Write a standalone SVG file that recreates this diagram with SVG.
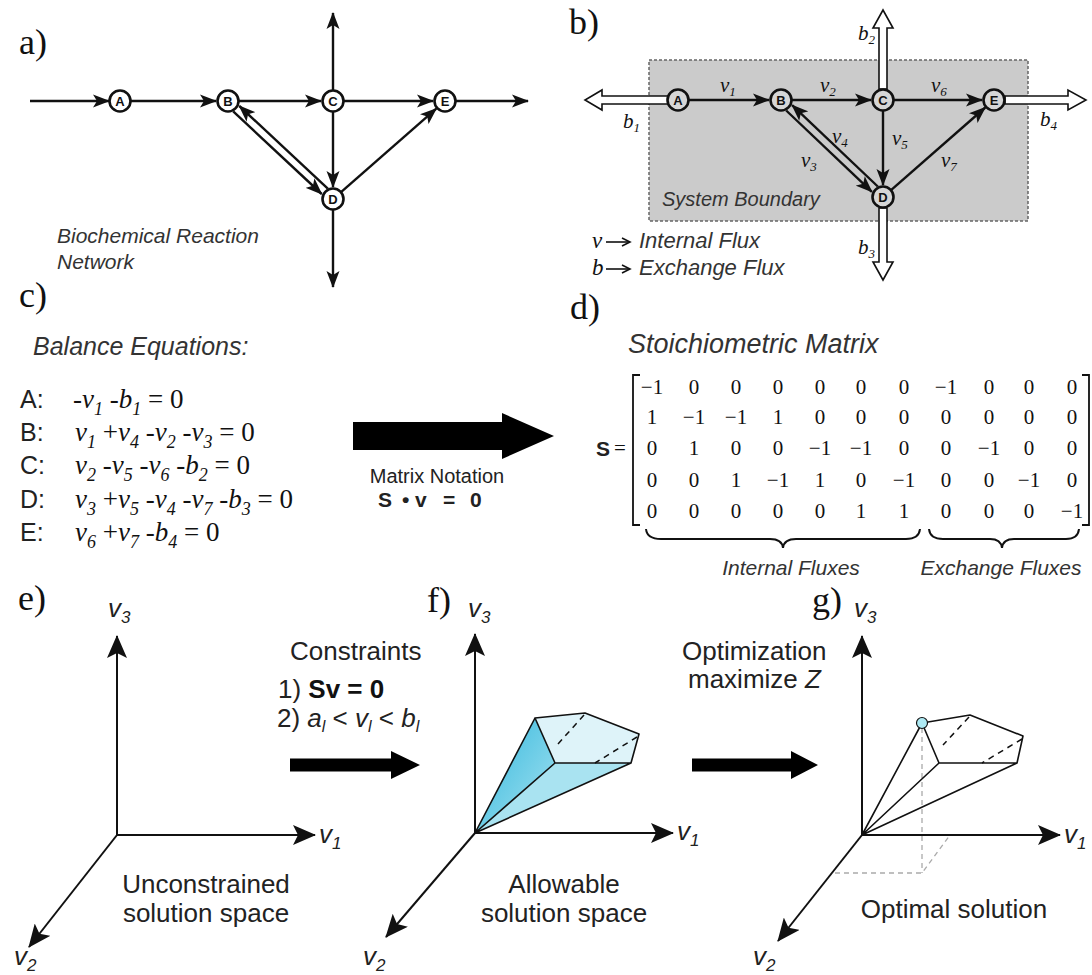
<svg xmlns="http://www.w3.org/2000/svg" width="1092" height="975" viewBox="0 0 1092 975">
<defs>
<marker id="ah" markerUnits="userSpaceOnUse" markerWidth="18" markerHeight="14" refX="16" refY="7" orient="auto">
<path d="M0,0.5 L17,7 L0,13.5 L4,7 z" fill="#111"/>
</marker>
<marker id="axh" markerUnits="userSpaceOnUse" markerWidth="24" markerHeight="20" refX="22" refY="10" orient="auto">
<path d="M0,0 L23,10 L0,20 L5,10 z" fill="#111"/>
</marker>
<linearGradient id="gL" x1="0" y1="0" x2="1" y2="1">
<stop offset="0" stop-color="#2fb6dc"/>
<stop offset="1" stop-color="#a8e3f1"/>
</linearGradient>
</defs>
<style>
.lbl{font-family:"Liberation Serif","Times New Roman",serif;font-size:36px;fill:#111}
.edge{fill:none;stroke:#111;stroke-width:2.4}
.nd{fill:#fff;stroke:#111;stroke-width:2.6}
.ndb{fill:#d6d6d6;stroke:#111;stroke-width:2.6}
.nt{font-family:"Liberation Sans",Arial,sans-serif;font-size:13px;font-weight:bold;text-anchor:middle;fill:#111}
.si{font-family:"Liberation Sans",Arial,sans-serif;font-style:italic;fill:#333}
.tm{font-family:"Liberation Serif","Times New Roman",serif;fill:#111}
.it{font-style:italic}
.sans{font-family:"Liberation Sans",Arial,sans-serif;fill:#222}
.hol{fill:#fff;stroke:#111;stroke-width:1.6}
.mx{font-family:"Liberation Serif","Times New Roman",serif;font-size:21px;text-anchor:middle;fill:#111}
.ax{fill:none;stroke:#111;stroke-width:2}
.axl{font-family:"Liberation Sans",Arial,sans-serif;font-size:26px;font-style:italic;fill:#222}
.poly{fill:none;stroke:#111;stroke-width:1.6;stroke-linejoin:round}
.dsh{fill:none;stroke:#111;stroke-width:1.5;stroke-dasharray:6,5}
.gd{fill:none;stroke:#aaa;stroke-width:1.3;stroke-dasharray:5,4}
.big{fill:#000}
</style>
<rect width="1092" height="975" fill="#fff"/>

<!-- panel labels -->
<g id="panel-labels">
<text class="lbl" x="19" y="54">a)</text>
<text class="lbl" x="569" y="34">b)</text>
<text class="lbl" x="19" y="307">c)</text>
<text class="lbl" x="570" y="319">d)</text>
<text class="lbl" x="18" y="610">e)</text>
<text class="lbl" x="427" y="612">f)</text>
<text class="lbl" x="812" y="612">g)</text>
</g>

<!-- ===== panel a ===== -->
<g id="a-connectors">
<path class="edge" d="M30,101 L109,101" marker-end="url(#ah)"/>
<path class="edge" d="M131,101 L216,101" marker-end="url(#ah)"/>
<path class="edge" d="M239,101 L321,101" marker-end="url(#ah)"/>
<path class="edge" d="M344,101 L433,101" marker-end="url(#ah)"/>
<path class="edge" d="M456,101 L528,101" marker-end="url(#ah)"/>
<path class="edge" d="M333,90 L333,13" marker-end="url(#ah)"/>
<path class="edge" d="M333,112 L333,187" marker-end="url(#ah)"/>
<path class="edge" d="M333,210 L333,287" marker-end="url(#ah)"/>
<path class="edge" d="M233.2,111.4 L321.7,194" marker-end="url(#ah)"/>
<path class="edge" d="M327.8,188.6 L239.3,106" marker-end="url(#ah)"/>
<path class="edge" d="M341.3,191.8 L436.3,108.6" marker-end="url(#ah)"/>
</g>
<g id="a-node-A"><circle class="nd" cx="120" cy="101" r="10.5"/><text class="nt" x="120" y="105.5">A</text></g>
<g id="a-node-B"><circle class="nd" cx="228" cy="101" r="10.5"/><text class="nt" x="228" y="105.5">B</text></g>
<g id="a-node-C"><circle class="nd" cx="333" cy="101" r="10.5"/><text class="nt" x="333" y="105.5">C</text></g>
<g id="a-node-D"><circle class="nd" cx="333" cy="199" r="10.5"/><text class="nt" x="333" y="203.5">D</text></g>
<g id="a-node-E"><circle class="nd" cx="445" cy="101" r="10.5"/><text class="nt" x="445" y="105.5">E</text></g>
<g id="a-caption">
<text class="si" font-size="21" x="57" y="243">Biochemical Reaction</text>
<text class="si" font-size="21" x="57" y="269">Network</text>
</g>

<!-- ===== panel b ===== -->
<g id="b-boundary">
<rect x="649" y="60" width="379" height="161" fill="#cbcbcb" stroke="#666" stroke-width="1.5" stroke-dasharray="3,2"/>
<text class="si" font-size="20" x="662" y="206">System Boundary</text>
</g>
<g id="b-exchange">
<polygon class="hol" points="668,96 602,96 602,90 585,100 602,110 602,104 668,104"/>
<polygon class="hol" points="879,89 879,28 873,28 883,10 893,28 887,28 887,89"/>
<polygon class="hol" points="879,208 879,262 873,262 883,280 893,262 887,262 887,208"/>
<polygon class="hol" points="1005,96 1068,96 1068,90 1086,100 1068,110 1068,104 1005,104"/>
</g>
<g id="b-connectors">
<path class="edge" d="M689,100 L769,100" marker-end="url(#ah)"/>
<path class="edge" d="M792,100 L871,100" marker-end="url(#ah)"/>
<path class="edge" d="M894,100 L982,100" marker-end="url(#ah)"/>
<path class="edge" d="M883,111 L883,185" marker-end="url(#ah)"/>
<path class="edge" d="M786.2,110.5 L871.9,191.9" marker-end="url(#ah)"/>
<path class="edge" d="M877.8,186.5 L792.1,105.1" marker-end="url(#ah)"/>
<path class="edge" d="M891.3,189.8 L985.3,107.5" marker-end="url(#ah)"/>
</g>
<g id="b-node-A"><circle class="ndb" cx="678" cy="100" r="10.5"/><text class="nt" x="678" y="104.5">A</text></g>
<g id="b-node-B"><circle class="ndb" cx="781" cy="100" r="10.5"/><text class="nt" x="781" y="104.5">B</text></g>
<g id="b-node-C"><circle class="ndb" cx="883" cy="100" r="10.5"/><text class="nt" x="883" y="104.5">C</text></g>
<g id="b-node-D"><circle class="ndb" cx="883" cy="197" r="10.5"/><text class="nt" x="883" y="201.5">D</text></g>
<g id="b-node-E"><circle class="ndb" cx="994" cy="100" r="10.5"/><text class="nt" x="994" y="104.5">E</text></g>
<g id="b-labels" class="tm it" font-size="21">
<text x="720" y="92">v<tspan font-size="13" dy="4">1</tspan></text>
<text x="820" y="92">v<tspan font-size="13" dy="4">2</tspan></text>
<text x="931" y="92">v<tspan font-size="13" dy="4">6</tspan></text>
<text x="832" y="143">v<tspan font-size="13" dy="4">4</tspan></text>
<text x="801" y="167">v<tspan font-size="13" dy="4">3</tspan></text>
<text x="892" y="145">v<tspan font-size="13" dy="4">5</tspan></text>
<text x="941" y="167">v<tspan font-size="13" dy="4">7</tspan></text>
<text x="623" y="128">b<tspan font-size="13" dy="4">1</tspan></text>
<text x="858" y="40">b<tspan font-size="13" dy="4">2</tspan></text>
<text x="858" y="254">b<tspan font-size="13" dy="4">3</tspan></text>
<text x="1040" y="126">b<tspan font-size="13" dy="4">4</tspan></text>
</g>
<g id="b-legend">
<text class="tm it" font-size="23" x="592" y="248">v</text>
<path d="M606,242 L629,242" stroke="#111" stroke-width="1.6"/><path d="M622,238 L630,242 L622,246" fill="none" stroke="#111" stroke-width="1.6"/>
<text class="si" font-size="22" x="639" y="248">Internal Flux</text>
<text class="tm it" font-size="23" x="592" y="275">b</text>
<path d="M606,269 L629,269" stroke="#111" stroke-width="1.6"/><path d="M622,265 L630,269 L622,273" fill="none" stroke="#111" stroke-width="1.6"/>
<text class="si" font-size="22" x="639" y="275">Exchange Flux</text>
</g>

<!-- ===== panel c ===== -->
<g id="c-equations">
<text class="si" font-size="25" x="33" y="355" fill="#111">Balance Equations:</text>
<g class="sans" font-size="25" fill="#111">
<text x="20" y="408">A:</text>
<text x="20" y="441">B:</text>
<text x="20" y="474">C:</text>
<text x="20" y="508">D:</text>
<text x="20" y="541">E:</text>
</g>
<g class="tm" font-size="27">
<text x="73" y="408">-<tspan class="it">v</tspan><tspan class="it" font-size="18" dy="7">1</tspan><tspan dy="-7"> -</tspan><tspan class="it">b</tspan><tspan class="it" font-size="18" dy="7">1</tspan><tspan dy="-7"> = 0</tspan></text>
<text x="75" y="441"><tspan class="it">v</tspan><tspan class="it" font-size="18" dy="7">1</tspan><tspan dy="-7"> +</tspan><tspan class="it">v</tspan><tspan class="it" font-size="18" dy="7">4</tspan><tspan dy="-7"> -</tspan><tspan class="it">v</tspan><tspan class="it" font-size="18" dy="7">2</tspan><tspan dy="-7"> -</tspan><tspan class="it">v</tspan><tspan class="it" font-size="18" dy="7">3</tspan><tspan dy="-7"> = 0</tspan></text>
<text x="75" y="474"><tspan class="it">v</tspan><tspan class="it" font-size="18" dy="7">2</tspan><tspan dy="-7"> -</tspan><tspan class="it">v</tspan><tspan class="it" font-size="18" dy="7">5</tspan><tspan dy="-7"> -</tspan><tspan class="it">v</tspan><tspan class="it" font-size="18" dy="7">6</tspan><tspan dy="-7"> -</tspan><tspan class="it">b</tspan><tspan class="it" font-size="18" dy="7">2</tspan><tspan dy="-7"> = 0</tspan></text>
<text x="75" y="508"><tspan class="it">v</tspan><tspan class="it" font-size="18" dy="7">3</tspan><tspan dy="-7"> +</tspan><tspan class="it">v</tspan><tspan class="it" font-size="18" dy="7">5</tspan><tspan dy="-7"> -</tspan><tspan class="it">v</tspan><tspan class="it" font-size="18" dy="7">4</tspan><tspan dy="-7"> -</tspan><tspan class="it">v</tspan><tspan class="it" font-size="18" dy="7">7</tspan><tspan dy="-7"> -</tspan><tspan class="it">b</tspan><tspan class="it" font-size="18" dy="7">3</tspan><tspan dy="-7"> = 0</tspan></text>
<text x="75" y="541"><tspan class="it">v</tspan><tspan class="it" font-size="18" dy="7">6</tspan><tspan dy="-7"> +</tspan><tspan class="it">v</tspan><tspan class="it" font-size="18" dy="7">7</tspan><tspan dy="-7"> -</tspan><tspan class="it">b</tspan><tspan class="it" font-size="18" dy="7">4</tspan><tspan dy="-7"> = 0</tspan></text>
</g>
</g>
<g id="c-arrow">
<polygon class="big" points="353,422 502,422 502,413 554,436 502,459 502,450 353,450"/>
<text class="sans" font-size="20" x="437" y="483" text-anchor="middle">Matrix Notation</text>
<g class="sans" font-size="21" font-weight="bold">
<text x="378" y="507">S</text><text x="402" y="507">•</text><text x="415" y="507">v</text><text x="443" y="507">=</text><text x="470" y="507">0</text>
</g>
</g>

<!-- ===== panel d ===== -->
<g id="d-matrix">
<text class="si" font-size="27" x="628" y="353" fill="#111">Stoichiometric Matrix</text>
<text class="sans" font-size="21" font-weight="bold" x="596" y="456">S</text>
<text class="tm" font-size="21" x="614" y="455">=</text>
<path d="M640,375 L633,375 L633,525 L640,525" fill="none" stroke="#111" stroke-width="1.8"/>
<path d="M1082,375 L1089,375 L1089,525 L1082,525" fill="none" stroke="#111" stroke-width="1.8"/>
<text class="mx" y="394"><tspan x="652">−1</tspan><tspan x="694">0</tspan><tspan x="736">0</tspan><tspan x="778">0</tspan><tspan x="820">0</tspan><tspan x="861">0</tspan><tspan x="904">0</tspan><tspan x="946">−1</tspan><tspan x="989">0</tspan><tspan x="1029">0</tspan><tspan x="1072">0</tspan></text>
<text class="mx" y="424"><tspan x="652">1</tspan><tspan x="694">−1</tspan><tspan x="736">−1</tspan><tspan x="778">1</tspan><tspan x="820">0</tspan><tspan x="861">0</tspan><tspan x="904">0</tspan><tspan x="946">0</tspan><tspan x="989">0</tspan><tspan x="1029">0</tspan><tspan x="1072">0</tspan></text>
<text class="mx" y="455"><tspan x="652">0</tspan><tspan x="694">1</tspan><tspan x="736">0</tspan><tspan x="778">0</tspan><tspan x="820">−1</tspan><tspan x="861">−1</tspan><tspan x="904">0</tspan><tspan x="946">0</tspan><tspan x="989">−1</tspan><tspan x="1029">0</tspan><tspan x="1072">0</tspan></text>
<text class="mx" y="487"><tspan x="652">0</tspan><tspan x="694">0</tspan><tspan x="736">1</tspan><tspan x="778">−1</tspan><tspan x="820">1</tspan><tspan x="861">0</tspan><tspan x="904">−1</tspan><tspan x="946">0</tspan><tspan x="989">0</tspan><tspan x="1029">−1</tspan><tspan x="1072">0</tspan></text>
<text class="mx" y="518"><tspan x="652">0</tspan><tspan x="694">0</tspan><tspan x="736">0</tspan><tspan x="778">0</tspan><tspan x="820">0</tspan><tspan x="861">1</tspan><tspan x="904">1</tspan><tspan x="946">0</tspan><tspan x="989">0</tspan><tspan x="1029">0</tspan><tspan x="1072">−1</tspan></text>
<path d="M646,529 Q647,539 661,539 L770,539 Q782,539 783,548 Q784,539 796,539 L906,539 Q919,539 920,529" fill="none" stroke="#111" stroke-width="2"/>
<path d="M929,529 Q930,539 943,539 L990,539 Q1001,539 1002,548 Q1003,539 1014,539 L1066,539 Q1078,539 1079,529" fill="none" stroke="#111" stroke-width="2"/>
<text class="si" font-size="21" x="791" y="575" text-anchor="middle" fill="#111">Internal Fluxes</text>
<text class="si" font-size="21" x="1001" y="575" text-anchor="middle" fill="#111">Exchange Fluxes</text>
</g>

<!-- ===== panel e ===== -->
<g id="e-axes">
<path class="ax" d="M117,835 L117,636" marker-end="url(#axh)"/>
<path class="ax" d="M117,835 L315,835" marker-end="url(#axh)"/>
<path class="ax" d="M117,835 L29,947" marker-end="url(#axh)"/>
<text class="axl" x="108" y="617">v<tspan font-size="17" dy="6">3</tspan></text>
<text class="axl" x="319" y="843">v<tspan font-size="17" dy="6">1</tspan></text>
<text class="axl" x="14" y="965">v<tspan font-size="17" dy="6">2</tspan></text>
<text class="sans" font-size="26" x="206" y="893" text-anchor="middle" fill="#333">Unconstrained</text>
<text class="sans" font-size="26" x="206" y="922" text-anchor="middle" fill="#333">solution space</text>
</g>
<g id="e-f-arrow">
<text class="sans" font-size="26" x="290" y="660" fill="#333">Constraints</text>
<text class="sans" font-size="26" x="278" y="698" fill="#333">1) <tspan font-weight="bold" fill="#111">Sv = 0</tspan></text>
<text class="sans" font-size="26" x="277" y="727" fill="#333">2) <tspan font-style="italic">a</tspan><tspan font-style="italic" font-size="16" dy="5">l</tspan><tspan dy="-5"> &lt; </tspan><tspan font-style="italic">v</tspan><tspan font-style="italic" font-size="16" dy="5">l</tspan><tspan dy="-5"> &lt; </tspan><tspan font-style="italic">b</tspan><tspan font-style="italic" font-size="16" dy="5">l</tspan></text>
<polygon class="big" points="290,758.5 391,758.5 391,751 420,765 391,779 391,771.5 290,771.5"/>
</g>

<!-- ===== panel f ===== -->
<g id="f-space">
<polygon points="475,833 535,718 555,763" fill="url(#gL)"/>
<polygon points="475,833 555,763 631,763" fill="#a9e3f1"/>
<polygon points="535,718 585,713 639,734 631,763 555,763" fill="#def3f9"/>
<path class="poly" d="M475,833 L535,718 M475,833 L555,763 M475,833 L631,763 M535,718 L585,713 L639,734 L631,763 L555,763 Z"/>
<path class="dsh" d="M584,715 L558,744 M637,737 L595,763"/>
<path class="ax" d="M475,833 L475,634" marker-end="url(#axh)"/>
<path class="ax" d="M475,833 L673,833" marker-end="url(#axh)"/>
<path class="ax" d="M475,833 L386,937" marker-end="url(#axh)"/>
<text class="axl" x="468" y="617">v<tspan font-size="17" dy="6">3</tspan></text>
<text class="axl" x="677" y="840">v<tspan font-size="17" dy="6">1</tspan></text>
<text class="axl" x="363" y="965">v<tspan font-size="17" dy="6">2</tspan></text>
<text class="sans" font-size="26" x="564" y="893" text-anchor="middle" fill="#333">Allowable</text>
<text class="sans" font-size="26" x="564" y="922" text-anchor="middle" fill="#333">solution space</text>
</g>
<g id="f-g-arrow">
<text class="sans" font-size="26" x="682" y="660" fill="#333">Optimization</text>
<text class="sans" font-size="26" x="688" y="688" fill="#333">maximize <tspan font-style="italic">Z</tspan></text>
<polygon class="big" points="692,758.5 791,758.5 791,751 818,765 791,779 791,771.5 692,771.5"/>
</g>

<!-- ===== panel g ===== -->
<g id="g-space">
<path class="gd" d="M922,728 L922,873 M835,873 L922,873 L950,835"/>
<path class="poly" d="M862,835 L922,723 M862,835 L939,763 M862,835 L1017,763 M922,723 L970,715 L1023,736 L1017,763 L939,763 Z"/>
<path class="dsh" d="M969,717 L943,745 M1022,739 L982,763"/>
<path class="ax" d="M862,835 L862,636" marker-end="url(#axh)"/>
<path class="ax" d="M862,835 L1060,835" marker-end="url(#axh)"/>
<path class="ax" d="M862,835 L778,941" marker-end="url(#axh)"/>
<circle cx="922" cy="723" r="5.5" fill="#aeeaf4" stroke="#111" stroke-width="1.2"/>
<text class="axl" x="854" y="617">v<tspan font-size="17" dy="6">3</tspan></text>
<text class="axl" x="1064" y="843">v<tspan font-size="17" dy="6">1</tspan></text>
<text class="axl" x="753" y="965">v<tspan font-size="17" dy="6">2</tspan></text>
<text class="sans" font-size="26" x="954" y="918" text-anchor="middle" fill="#333">Optimal solution</text>
</g>
</svg>
